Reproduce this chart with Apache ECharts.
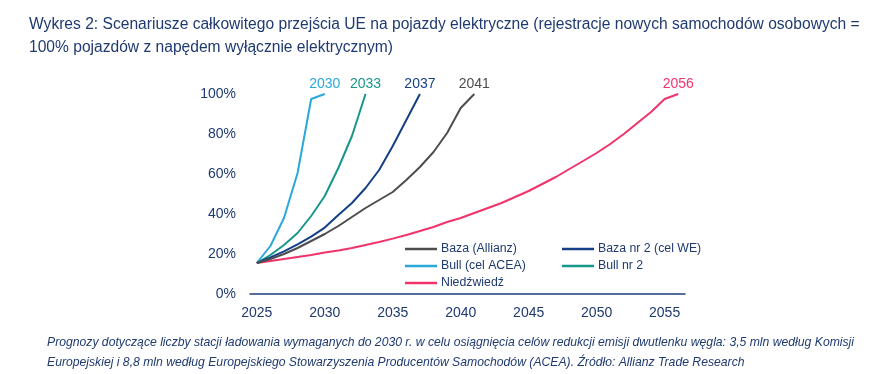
<!DOCTYPE html>
<html><head><meta charset="utf-8">
<script src="https://cdn.jsdelivr.net/npm/echarts@6/dist/echarts.min.js"></script>
<style>html,body{margin:0;padding:0;background:#fff}#c{width:893px;height:374px}</style>
</head><body><div id="c"></div>
<script>
const years = ['2025','2026','2027','2028','2029','2030','2031','2032','2033','2034','2035','2036','2037','2038','2039','2040','2041','2042','2043','2044','2045','2046','2047','2048','2049','2050','2051','2052','2053','2054','2055','2056'];
const yTicks = [0,20,40,60,80,100];
const bazaAllianz = [15.5,17.5,20,23,26.5,30,34,38.5,43,47,51,57,63.5,71,80.5,93,100];
const bazaNr2 = [15.5,18.3,21.3,24.8,28.7,33.2,39.5,45.5,53,62,74,87,100];
const bullAcea = [15.5,24,38,60.5,97.5,100];
const bullNr2 = [15.5,19.5,24.5,30.5,39,49,63,79,100];
const niedzwiedz = [15.5,16.5,17.5,18.5,19.5,20.7,21.8,23,24.5,26,27.7,29.5,31.5,33.5,36,38,40.5,43,45.5,48.5,51.5,55,58.5,62.5,66.5,70.5,75,80,85.5,91,97.5,100];
const names = ['Baza (Allianz)','Baza nr 2 (cel WE)','Bull (cel ACEA)','Bull nr 2','Niedźwiedź'];
const colors = ['#4d4d4d','#153f86','#2aa8dc','#17978a','#f2336a'];
const datasets = [bazaAllianz,bazaNr2,bullAcea,bullNr2,niedzwiedz];
const navy = '#1f3a70';
const font = 'Liberation Sans';

const series = datasets.map((d,i)=>({
  name: names[i], type:'line', data:d, color: colors[i],
  symbol:'circle', symbolSize:0, showSymbol:true,
  lineStyle:{width:2, color:colors[i]},
  label:{show:true, position:'top', distance:3, color:colors[i], fontSize:14, fontFamily:font,
    formatter:p=> p.dataIndex===d.length-1 ? years[p.dataIndex] : ''},
  emphasis:{disabled:true}, animation:false, z: 10-i
}));

const chart = echarts.init(document.getElementById('c'));
chart.setOption({
  animation:false,
  title:[{
    text:'Wykres 2: Scenariusze całkowitego przejścia UE na pojazdy elektryczne (rejestracje nowych samochodów osobowych =\n100% pojazdów z napędem wyłącznie elektrycznym)',
    left:24, top:8,
    textStyle:{color:navy, fontSize:15.6, fontWeight:'normal', fontFamily:font, lineHeight:23}
  },{
    text:'Prognozy dotyczące liczby stacji ładowania wymaganych do 2030 r. w celu osiągnięcia celów redukcji emisji dwutlenku węgla: 3,5 mln według Komisji\nEuropejskiej i 8,8 mln według Europejskiego Stowarzyszenia Producentów Samochodów (ACEA). Źródło: Allianz Trade Research',
    left:42, top:328,
    textStyle:{color:navy, fontSize:12.2, fontStyle:'italic', fontWeight:'normal', fontFamily:font, lineHeight:20}
  }],
  legend:[{
    data:['Baza (Allianz)','Bull (cel ACEA)','Niedźwiedź'], orient:'vertical', left:400, top:238,
    icon:'rect', itemWidth:32, itemHeight:2.5, itemGap:5,
    textStyle:{color:navy, fontSize:12.3, fontFamily:font, padding:[0,0,0,-1]}, selectedMode:false
  },{
    data:['Baza nr 2 (cel WE)','Bull nr 2'], orient:'vertical', left:557, top:238,
    icon:'rect', itemWidth:32, itemHeight:2.5, itemGap:5,
    textStyle:{color:navy, fontSize:12.3, fontFamily:font, padding:[0,0,0,-1]}, selectedMode:false
  }],
  grid:{left:250, right:208, top:94, bottom:80},
  xAxis:{type:'category', data:years, boundaryGap:true,
    axisLine:{lineStyle:{color:'#1f3f7a', width:1.5}}, axisTick:{show:false},
    axisLabel:{interval:4, color:navy, fontSize:14, fontFamily:font, margin:12}},
  yAxis:{type:'value', min:yTicks[0], max:yTicks[yTicks.length-1], interval:20,
    axisLine:{show:false}, axisTick:{show:false}, splitLine:{show:false},
    axisLabel:{color:navy, fontSize:14, fontFamily:font, margin:14, formatter:v=>v+'%'}},
  series: series
});
</script></body></html>
